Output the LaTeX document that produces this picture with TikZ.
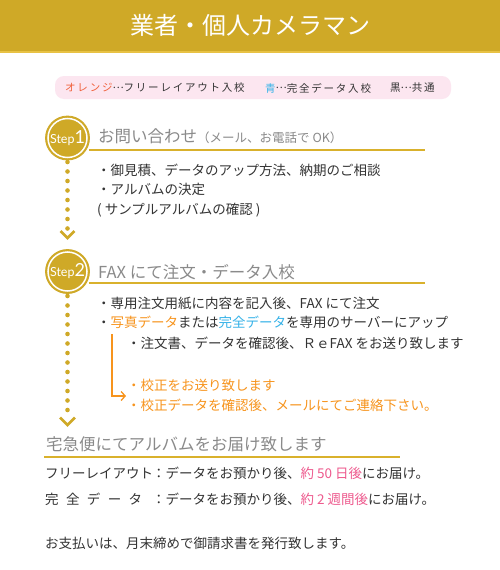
\documentclass[tikz,border=0pt]{standalone}
\usepackage{fontspec}
\setmainfont{Noto Sans CJK JP}
\newfontfamily\stepfont{Lato}
\newfontfamily\jpsp{Noto Sans CJK JP}[LetterSpace=17]
\usetikzlibrary{arrows.meta}
\newcommand\jdots{\raisebox{0.32em}{…}}
\definecolor{gold}{HTML}{CFA927}
\definecolor{goldlight}{HTML}{E8C244}
\definecolor{goldline}{HTML}{D9B12C}
\definecolor{lpink}{HTML}{FCE6F0}
\definecolor{bodytxt}{HTML}{333333}
\definecolor{headtxt}{HTML}{8A8A8A}
\definecolor{orng}{HTML}{F7941D}
\definecolor{redor}{HTML}{F0603A}
\definecolor{blu}{HTML}{35B2E8}
\definecolor{pnk}{HTML}{EE5A8E}
\tikzset{
  txt/.style={anchor=west, inner sep=0pt, text=bodytxt, font=\fontsize{13.5}{16}\selectfont},
  headtext/.style={anchor=west, inner sep=0pt, text=headtxt, font=\fontsize{16.5}{19}\selectfont},
  legtxt/.style={anchor=west, inner sep=0pt, text=bodytxt, font=\jpsp\fontsize{10.5}{12}\selectfont},
  stepcircle/.style={circle, fill=gold, draw=gold, line width=0.8pt, minimum size=44pt, inner sep=0pt,
    text=white, path picture={\draw[white, line width=1.5pt] (path picture bounding box.center) circle (19.5pt);}},
  hline/.style={goldline, line width=1.8pt},
  dots/.style={gold, line width=4.6pt, line cap=round, dash pattern=on 0pt off 9.5pt},
  chev/.style={gold, line width=2.8pt},
  bracket/.style={orng, line width=1.3pt, -{Straight Barb[length=4pt,width=9pt]}}
}
\begin{document}
\begin{tikzpicture}[x=1pt,y=-1pt]
\useasboundingbox (0,0) rectangle (500,570);
\fill[white] (0,0) rectangle (500,570);
% banner
\fill[gold] (0,0) rectangle (500,51);
\fill[goldlight] (0,50.5) rectangle (500,52.5);
\node[text=white, font=\fontsize{24}{28}\selectfont, inner sep=0pt] (title) at (250,25) {業者・個人カメラマン};
% legend
\node[fill=lpink, rounded corners=9pt, minimum width=396pt, minimum height=23pt, inner sep=0pt] (legend) at (253,87.5) {};
\node[legtxt] (leg1) at (65,88) {\textcolor{redor}{オレンジ}\jdots フリーレイアウト入校};
\node[legtxt] (leg2) at (265,88) {\textcolor{blu}{青}\jdots 完全データ入校};
\node[legtxt] (leg3) at (390,88) {黒\jdots 共通};
% step 1
\node[stepcircle] (s1) at (67.5,138) {\stepfont\fontsize{12.5}{14}\selectfont Step\fontsize{18}{18}\selectfont 1};
\coordinate (l1end) at (425,150);
\draw[hline] (s1.east |- l1end) ++(-1,0) coordinate (l1start) -- (l1end);
\node[headtext] (h1) at (98,136) {お問い合わせ\fontsize{12.5}{14}\selectfont（メール、お電話で OK）};
\node[txt] (b11) at (97,170) {・御見積、データのアップ方法、納期のご相談};
\node[txt] (b12) at (97,189) {・アルバムの決定};
\node[txt] (b13) at (97,210) {( サンプルアルバムの確認 )};
\coordinate (d1a) at (67.5,162);
\coordinate (d1b) at (67.5,229);
\draw[dots] (d1a) -- (d1b);
\coordinate (c1) at (67.5,238);
\draw[chev] (60.5,231) -- (c1) -- (74.5,231);
% step 2
\node[stepcircle] (s2) at (67.5,271.5) {\stepfont\fontsize{12.5}{14}\selectfont Step\fontsize{18}{18}\selectfont 2};
\coordinate (l2end) at (425,283);
\draw[hline] (s2.east |- l2end) ++(-1,0) -- (l2end);
\node[headtext] (h2) at (98,272) {FAX にて注文・データ入校};
\node[txt] (b21) at (97,303) {・専用注文用紙に内容を記入後、FAX にて注文};
\node[txt] (b22) at (97,322) {・\textcolor{orng}{写真データ}または\textcolor{blu}{完全データ}を専用のサーバーにアップ};
\node[txt] (b23) at (127,343) {・注文書、データを確認後、ＲｅFAX をお送り致します};
\node[txt, text=orng] (b24) at (127,385) {・校正をお送り致します};
\node[txt, text=orng] (b25) at (127,405) {・校正データを確認後、メールにてご連絡下さい。};
\coordinate (br0) at (112,334);
\coordinate (br1) at (112,396);
\coordinate (br2) at (126,396);
\draw[bracket] (br0) -- (br1) -- (br2);
\coordinate (d2a) at (67.5,296);
\coordinate (d2b) at (67.5,413);
\draw[dots] (d2a) -- (d2b);
\coordinate (c2) at (67.5,425);
\draw[chev] (60,417.5) -- (c2) -- (75,417.5);
% section 3
\node[headtext] (h3) at (46,444) {宅急便にてアルバムをお届け致します};
\coordinate (l3a) at (44,457);
\coordinate (l3b) at (400,457);
\draw[hline] (l3a) -- (l3b);
\node[txt] (r1a) at (45,473) {フリーレイアウト};
\node[txt] (r1b) at (152,473) {：データをお預かり後、\textcolor{pnk}{約 50 日後}にお届け。};
\node[txt] (r2a) at (45,499) {\makebox[97pt][s]{完\hfill 全\hfill デ\hfill ー\hfill タ}};
\node[txt] (r2b) at (152,499) {：データをお預かり後、\textcolor{pnk}{約 2 週間後}にお届け。};
\node[txt] (r3) at (45,543) {お支払いは、月末締めで御請求書を発行致します。};
\end{tikzpicture}
\end{document}
